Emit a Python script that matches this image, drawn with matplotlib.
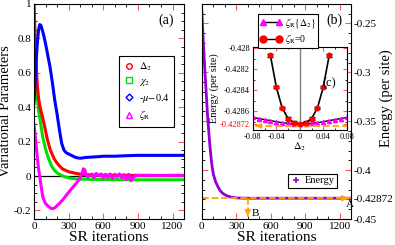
import numpy as np
import matplotlib
matplotlib.use("Agg")
import matplotlib.pyplot as plt
from matplotlib.lines import Line2D
from matplotlib.ticker import MultipleLocator

plt.rcParams['font.family'] = ['Liberation Serif', 'DejaVu Serif']
plt.rcParams['mathtext.fontset'] = 'stix'

# ---- panel (a): variational parameters vs SR iteration ----
it_delta = [0, 10, 20, 30, 40, 50, 60, 75, 95, 110, 125, 140, 155, 175, 200, 225,
            250, 300, 350, 400, 450, 500, 600, 800, 1000, 1300]
delta2 = [1.0, 0.80, 0.64, 0.52, 0.45, 0.41, 0.38, 0.34, 0.28, 0.23, 0.19, 0.155,
          0.13, 0.10, 0.075, 0.055, 0.04, 0.025, 0.017, 0.011, 0.008, 0.006,
          0.005, 0.004, 0.003, 0.003]

it_chi = [0, 10, 20, 30, 40, 52, 75, 95, 110, 130, 153, 175, 200, 225, 250, 275,
          312, 350, 400, 500, 700, 900, 1100, 1300]
chi2 = [1.0, 0.74, 0.56, 0.45, 0.38, 0.33, 0.23, 0.17, 0.135, 0.095, 0.057, 0.035,
        0.018, 0.008, 0.0, -0.006, -0.012, -0.016, -0.018, -0.02, -0.021, -0.022,
        -0.022, -0.022]

it_mu = [0, 10, 20, 30, 40, 50, 60, 80, 100, 120, 140, 160, 180, 200, 220, 240,
         260, 280, 300, 330, 360, 400, 450, 500, 550, 600, 700, 800, 900, 1000,
         1100, 1200, 1300]
mu = [0.42, 0.55, 0.68, 0.78, 0.85, 0.88, 0.875, 0.83, 0.77, 0.70, 0.63, 0.54,
      0.44, 0.36, 0.27, 0.19, 0.15, 0.135, 0.128, 0.118, 0.108, 0.103, 0.108,
      0.11, 0.112, 0.115, 0.115, 0.118, 0.12, 0.12, 0.12, 0.12, 0.12]

it_zeta = [0, 10, 20, 30, 40, 50, 60, 70, 80, 100, 125, 145, 162, 180, 200, 225,
           250, 275, 300, 325, 350, 375, 400, 415, 428, 440, 450, 460, 480, 500,
           520, 540, 560, 580, 600, 620, 640, 660, 680, 700, 720, 740, 760, 780,
           800, 820, 840, 860, 880, 900, 1000, 1100, 1200, 1300]
zeta = [0.30, 0.24, 0.17, 0.10, 0.04, 0.0, -0.05, -0.095, -0.13, -0.16, -0.177,
        -0.187, -0.19, -0.185, -0.172, -0.156, -0.138, -0.116, -0.095, -0.075,
        -0.055, -0.035, -0.012, 0.015, 0.042, 0.035, 0.01, -0.005, 0.0, 0.012,
        -0.01, 0.015, 0.0, 0.012, -0.012, 0.01, -0.008, 0.012, -0.015, 0.01,
        -0.005, 0.012, -0.01, 0.008, -0.02, 0.01, -0.028, -0.01, 0.005, 0.003,
        0.004, 0.003, 0.004, 0.003]

# ---- panel (b): energy vs SR iteration ----
it_E = [0, 10, 20, 30, 40, 50, 60, 70, 80, 90, 100, 120, 140, 160, 180, 200, 225,
        250, 275, 300, 350, 400, 600, 800, 1000, 1200, 1300]
energy = [-0.238, -0.262, -0.285, -0.305, -0.325, -0.345, -0.360, -0.375, -0.387,
          -0.397, -0.404, -0.412, -0.417, -0.421, -0.4235, -0.4252, -0.4265,
          -0.4275, -0.428, -0.4284, -0.4286, -0.42872, -0.42872, -0.42872,
          -0.42872, -0.42872, -0.42872]
E_min = -0.42872
B_iter = 400

# ---- panel (c): energy vs Delta_2 ----
d_zero = [-0.05, -0.04, -0.03, -0.02, -0.01, 0.0, 0.01, 0.02, 0.03, 0.04, 0.05]
E_zero = [-0.42807, -0.42837, -0.42857, -0.42867, -0.42871, -0.42872, -0.42871,
          -0.42867, -0.42857, -0.42837, -0.42807]
d_zeta = [-0.08, -0.07, -0.06, -0.05, -0.04, -0.03, -0.02, -0.01, 0.0, 0.01, 0.02,
          0.03, 0.04, 0.05, 0.06, 0.07, 0.08]
E_zeta = [-0.42866, -0.42867, -0.42868, -0.42869, -0.4287, -0.42871, -0.428715,
          -0.42872, -0.42872, -0.42872, -0.428715, -0.42871, -0.4287, -0.42869,
          -0.42868, -0.42867, -0.42866]

TICKRED = '#ff5a5a'
PURPLE = '#9400d3'
ORANGE = '#ffa500'


def style_ticks(ax, size=8):
    ax.tick_params(which='both', direction='in', top=True, right=True,
                   labelsize=size, pad=2)
    ax.tick_params(which='major', length=4, color=TICKRED, width=0.8)
    ax.tick_params(which='minor', length=2, color='black', width=0.6)


fig = plt.figure(figsize=(3.95, 2.45), dpi=100)

# panel (a)
ax1 = fig.add_axes([0.086, 0.106, 0.380, 0.878])
ax1.axhline(0, color='black', lw=0.9)
ax1.plot(it_chi, chi2, color='#00e000', lw=2.2)
ax1.plot(it_delta, delta2, color='#ff0000', lw=2.2)
ax1.plot(it_mu, mu, color='#0000ff', lw=2.2)
ax1.plot(it_zeta, zeta, color='#ff00ff', lw=2.2)
ax1.set_xlim(0, 1300)
ax1.set_ylim(-0.25, 1.0)
ax1.set_xticks([0, 300, 600, 900, 1200])
ax1.set_yticks([-0.2, 0, 0.2, 0.4, 0.6, 0.8, 1.0])
ax1.set_yticklabels(['-0.2', '0', '0.2', '0.4', '0.6', '0.8', '1'])
ax1.xaxis.set_minor_locator(MultipleLocator(100))
ax1.yaxis.set_minor_locator(MultipleLocator(0.05))
style_ticks(ax1)
ax1.set_xlabel('SR iterations', fontsize=11, labelpad=0)
ax1.set_ylabel('Variational Parameters', fontsize=10.5, labelpad=1)
ax1.text(0.93, 0.955, '(a)', transform=ax1.transAxes, fontsize=10,
         ha='right', va='top')
h1 = [Line2D([], [], ls='none', marker='o', mfc='none', mec='#ff0000', ms=4),
      Line2D([], [], ls='none', marker='s', mfc='none', mec='#00e000', ms=4),
      Line2D([], [], ls='none', marker='D', mfc='none', mec='#0000ff', ms=3.5),
      Line2D([], [], ls='none', marker='^', mfc='none', mec='#ff00ff', ms=4)]
leg1 = ax1.legend(h1, [r'$\Delta_2$', r'$\chi_2$', r'-$\mu$$-$0.4', r'$\zeta_{\rm R}$'],
                  loc='upper left', bbox_to_anchor=(0.53, 0.78), fontsize=7.5,
                  fancybox=False, edgecolor='black', framealpha=1,
                  handletextpad=0.3, borderpad=0.4, labelspacing=0.35,
                  handlelength=1.2)
leg1.get_frame().set_linewidth(0.8)

# panel (b)
ax2 = fig.add_axes([0.511, 0.106, 0.378, 0.878])
ax2.plot(it_E, energy, color=PURPLE, lw=2.0)
ax2.plot([0, 1300], [E_min, E_min], ls='--', color=ORANGE, lw=1.3, clip_on=False)
ax2.annotate('', xy=(1300, E_min), xytext=(1240, E_min),
             arrowprops=dict(arrowstyle='-|>', color=ORANGE, lw=1.3,
                             mutation_scale=8), annotation_clip=False)
ax2.plot([B_iter, B_iter], [E_min, -0.447], ls='--', color=ORANGE, lw=1.3)
ax2.annotate('', xy=(B_iter, -0.45), xytext=(B_iter, -0.444),
             arrowprops=dict(arrowstyle='-|>', color=ORANGE, lw=1.3,
                             mutation_scale=8), annotation_clip=False)
ax2.text(430, -0.4465, 'B', fontsize=8)
ax2.text(1255, -0.4375, 'A', fontsize=8)
ax2.set_xlim(0, 1300)
ax2.set_ylim(-0.45, -0.23)
ax2.set_xticks([0, 300, 600, 900, 1200])
ax2.set_yticks([-0.45, E_min, -0.4, -0.35, -0.3, -0.25])
ax2.set_yticklabels(['-0.45', '-0.42872', '-0.4', '-0.35', '-0.3', '-0.25'])
ax2.get_yticklabels()[1].set_color('red')
ax2.xaxis.set_minor_locator(MultipleLocator(100))
ax2.yaxis.set_minor_locator(MultipleLocator(0.01))
style_ticks(ax2)
ax2.tick_params(which='both', left=True, right=True, labelleft=False,
                labelright=True)
ax2.yaxis.set_label_position('right')
ax2.set_xlabel('SR iterations', fontsize=11, labelpad=0)
ax2.set_ylabel('Energy (per site)', fontsize=10.5, va='center')
ax2.yaxis.set_label_coords(1.235, 0.56)
ax2.text(0.94, 0.955, '(b)', transform=ax2.transAxes, fontsize=10,
         ha='right', va='top')
hE = [Line2D([], [], ls='none', marker='+', color=PURPLE, ms=5, mew=1.2)]
leg2 = ax2.legend(hE, ['Energy'], loc='lower right',
                  bbox_to_anchor=(0.94, 0.12), fontsize=7.5, fancybox=False,
                  edgecolor='black', framealpha=1, handletextpad=0.3,
                  borderpad=0.25, handlelength=1.0)
leg2.get_frame().set_linewidth(0.8)

# panel (c): inset
ax3 = fig.add_axes([0.640, 0.469, 0.238, 0.339])
ax3.axvline(0, color='gray', lw=1)
ax3.plot(d_zeta, E_zeta, color='black', lw=1.0, marker='^', mfc='#ff00ff',
         mec='#ff00ff', ms=3)
ax3.plot(d_zero, E_zero, color='black', lw=1.2)
ax3.errorbar(d_zero, E_zero, yerr=0.000012, fmt='o', color='red', ms=3.2,
             ecolor='black', elinewidth=0.8, capsize=2)
ax3.plot([-0.075, 0.08], [E_min - 0.00002, E_min - 0.00002], ls='--',
         color=ORANGE, lw=1.3)
ax3.annotate('', xy=(-0.08, E_min - 0.00002), xytext=(-0.07, E_min - 0.00002),
             arrowprops=dict(arrowstyle='-|>', color=ORANGE, lw=1.2,
                             mutation_scale=7), annotation_clip=False)
ax3.set_xlim(-0.08, 0.08)
ax3.set_ylim(-0.42878, -0.42799)
ax3.set_xticks([-0.08, -0.04, 0, 0.04, 0.08])
ax3.set_xticklabels(['-0.08', '-0.04', '0', '0.04', '0.08'])
ax3.set_yticks([E_min, -0.4286, -0.4284, -0.4282, -0.428])
ax3.set_yticklabels(['-0.42872', '-0.4286', '-0.4284', '-0.4282', '-0.428'])
ax3.get_yticklabels()[0].set_color('red')
ax3.xaxis.set_minor_locator(MultipleLocator(0.02))
ax3.yaxis.set_minor_locator(MultipleLocator(0.0001))
style_ticks(ax3, size=6)
ax3.tick_params(which='major', length=3)
ax3.tick_params(which='minor', length=1.5)
ax3.set_xlabel(r'$\Delta_2$', fontsize=7.5, labelpad=0)
ax3.set_ylabel('Energy (per site)', fontsize=7.5, labelpad=1)
ax3.text(0.051, -0.42833, '(c)', fontsize=9, ha='center', va='center')

h3 = [Line2D([], [], color='black', lw=1, marker='^', mfc='#ff00ff',
             mec='#ff00ff', ms=5),
      Line2D([], [], color='black', lw=1, marker='o', mfc='red', mec='red', ms=5)]
leg3 = ax3.legend(h3, [r'$\zeta_{\rm R}\{\Delta_2\}$', r'$\zeta_{\rm R}$=0'],
                  loc='lower left', bbox_to_anchor=(0.06, 0.985), fontsize=7,
                  fancybox=False, edgecolor='black', framealpha=1, numpoints=2,
                  handletextpad=0.3, borderpad=0.2, labelspacing=0.25,
                  handlelength=2.2, borderaxespad=0)
leg3.get_frame().set_linewidth(0.8)

fig.savefig('out.png', dpi=100)
